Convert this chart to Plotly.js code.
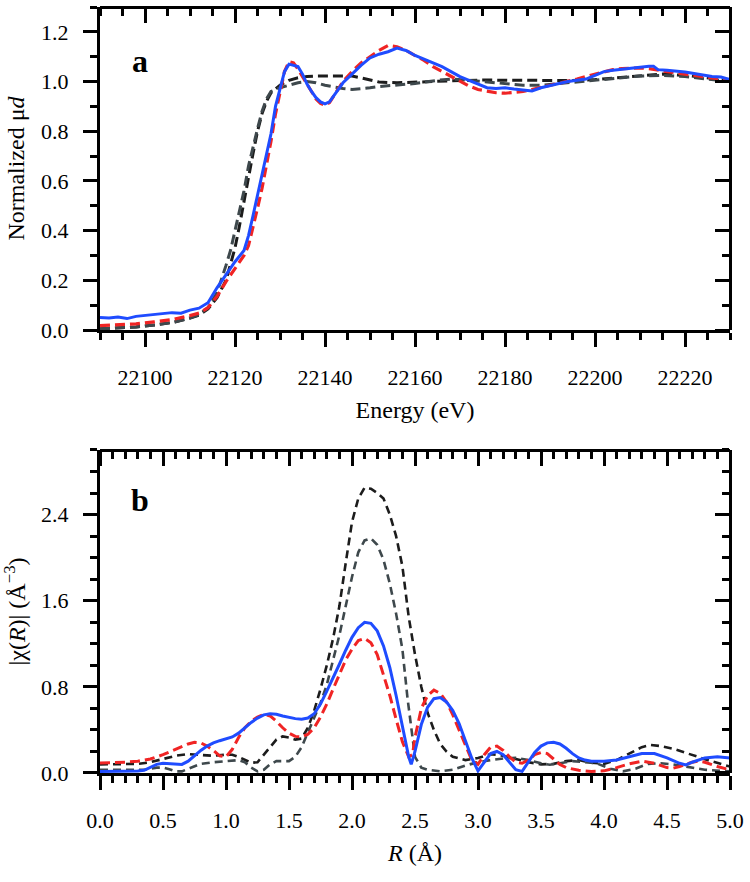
<!DOCTYPE html>
<html>
<head>
<meta charset="utf-8">
<script src="https://cdn.plot.ly/plotly-3.0.1.min.js"></script>
<style>html,body{margin:0;padding:0;background:#fff;}#chart{width:750px;height:882px;}</style>
</head>
<body>
<div id="chart"></div>
<script>
// ---------- Panel a: normalized XANES ----------
const eBlue = [22090,22092,22094,22096,22098,22100,22102,22104,22106,22108,22110,22112,22114,22116,22118,22120,22122,22123,22124,22125,22126,22127,22128,22129,22130,22131,22132,22133,22134,22135,22136,22137,22138,22139,22140,22141,22142,22143,22144,22146,22148,22150,22152,22154,22156,22158,22160,22162,22164,22166,22168,22170,22172,22174,22176,22178,22180,22182,22184,22186,22188,22190,22192,22194,22196,22198,22200,22202,22204,22206,22208,22210,22212,22213,22214,22216,22218,22220,22222,22224,22226,22228,22230];
const muBlue = [0.050,0.048,0.052,0.046,0.055,0.058,0.062,0.066,0.070,0.068,0.080,0.088,0.110,0.170,0.225,0.275,0.320,0.380,0.460,0.540,0.620,0.700,0.790,0.900,0.970,1.040,1.070,1.065,1.060,1.030,0.990,0.960,0.935,0.918,0.910,0.918,0.945,0.970,0.995,1.030,1.065,1.095,1.110,1.120,1.135,1.125,1.105,1.090,1.075,1.060,1.040,1.020,1.005,0.990,0.975,0.972,0.975,0.970,0.965,0.962,0.975,0.985,0.992,1.000,1.005,1.010,1.025,1.040,1.045,1.050,1.055,1.058,1.062,1.062,1.048,1.045,1.042,1.038,1.032,1.025,1.020,1.018,1.008];

const eRed = [22090,22094,22098,22102,22106,22110,22112,22114,22116,22118,22120,22122,22123,22124,22125,22126,22127,22128,22129,22130,22131,22132,22133,22134,22135,22136,22137,22138,22139,22140,22141,22142,22143,22144,22146,22148,22150,22152,22154,22156,22158,22160,22162,22164,22166,22168,22170,22172,22174,22176,22178,22180,22182,22184,22186,22188,22190,22192,22194,22196,22198,22200,22202,22204,22206,22208,22210,22212,22214,22216,22218,22220,22222,22224,22226,22228,22230];
const muRed = [0.018,0.020,0.025,0.033,0.042,0.058,0.068,0.090,0.135,0.195,0.250,0.300,0.340,0.410,0.490,0.570,0.660,0.760,0.870,0.960,1.040,1.080,1.075,1.050,1.020,0.985,0.955,0.930,0.912,0.905,0.915,0.945,0.975,1.000,1.040,1.075,1.100,1.125,1.145,1.140,1.125,1.105,1.085,1.060,1.040,1.020,1.000,0.982,0.968,0.960,0.955,0.953,0.955,0.960,0.968,0.976,0.985,0.992,1.000,1.010,1.020,1.030,1.040,1.048,1.052,1.055,1.055,1.052,1.045,1.040,1.035,1.030,1.025,1.020,1.015,1.010,1.005];

const eBlack = [22090,22094,22098,22102,22106,22110,22112,22114,22116,22118,22119,22120,22121,22122,22123,22124,22125,22126,22127,22128,22130,22132,22134,22136,22138,22140,22142,22144,22146,22148,22150,22152,22156,22160,22165,22170,22175,22180,22185,22190,22195,22200,22205,22210,22215,22220,22225,22230];
const muBlack = [0.005,0.008,0.012,0.020,0.030,0.048,0.060,0.085,0.130,0.200,0.260,0.330,0.420,0.520,0.620,0.710,0.800,0.870,0.920,0.955,0.985,1.005,1.015,1.020,1.022,1.022,1.025,1.025,1.022,1.015,1.005,0.998,0.995,0.998,1.000,1.004,1.006,1.005,1.003,1.003,1.004,1.008,1.015,1.025,1.030,1.025,1.015,1.005];

const eGray = [22090,22094,22098,22102,22106,22110,22112,22114,22116,22118,22119,22120,22121,22122,22123,22124,22125,22126,22127,22128,22130,22132,22134,22136,22138,22140,22142,22144,22146,22148,22150,22152,22155,22160,22165,22168,22172,22178,22184,22188,22192,22196,22200,22205,22210,22215,22220,22225,22230];
const muGray = [0.005,0.008,0.012,0.020,0.030,0.048,0.062,0.090,0.150,0.260,0.320,0.400,0.480,0.560,0.660,0.740,0.810,0.880,0.930,0.960,0.975,0.985,0.995,1.000,0.995,0.985,0.978,0.972,0.968,0.970,0.975,0.980,0.985,0.992,1.005,1.010,1.005,0.995,0.985,0.985,0.992,1.000,1.005,1.015,1.022,1.025,1.020,1.010,1.000];

// ---------- Panel b: |chi(R)| ----------
const rBlue = [0.00,0.10,0.20,0.30,0.35,0.40,0.45,0.50,0.55,0.60,0.65,0.70,0.75,0.80,0.85,0.90,0.95,1.00,1.05,1.10,1.15,1.20,1.25,1.30,1.35,1.40,1.45,1.50,1.55,1.60,1.65,1.70,1.75,1.80,1.85,1.90,1.95,2.00,2.05,2.10,2.15,2.20,2.25,2.30,2.35,2.40,2.45,2.47,2.50,2.55,2.60,2.65,2.70,2.75,2.80,2.85,2.90,2.95,3.00,3.05,3.10,3.15,3.20,3.25,3.30,3.35,3.40,3.45,3.50,3.55,3.60,3.65,3.70,3.75,3.80,3.85,3.90,4.00,4.10,4.20,4.30,4.40,4.50,4.60,4.65,4.70,4.80,4.90,5.00];
const chiBlue = [0.015,0.015,0.015,0.018,0.025,0.050,0.080,0.090,0.088,0.080,0.080,0.110,0.160,0.210,0.250,0.280,0.300,0.315,0.335,0.370,0.420,0.470,0.510,0.540,0.550,0.545,0.530,0.515,0.505,0.500,0.510,0.550,0.640,0.760,0.880,1.010,1.140,1.260,1.350,1.400,1.390,1.320,1.180,0.980,0.720,0.440,0.150,0.080,0.200,0.450,0.610,0.690,0.700,0.660,0.580,0.460,0.300,0.140,0.020,0.100,0.180,0.200,0.170,0.100,0.030,0.015,0.100,0.190,0.250,0.280,0.285,0.270,0.230,0.180,0.140,0.120,0.110,0.110,0.120,0.150,0.180,0.180,0.140,0.090,0.075,0.100,0.140,0.150,0.140];

const rRed = [0.00,0.10,0.20,0.30,0.40,0.50,0.60,0.70,0.75,0.80,0.85,0.90,0.95,1.00,1.05,1.10,1.15,1.20,1.25,1.30,1.35,1.40,1.45,1.50,1.55,1.60,1.65,1.70,1.75,1.80,1.85,1.90,1.95,2.00,2.05,2.10,2.15,2.20,2.25,2.30,2.35,2.40,2.45,2.48,2.50,2.55,2.60,2.65,2.70,2.75,2.80,2.85,2.90,2.95,3.00,3.05,3.10,3.15,3.20,3.25,3.30,3.35,3.40,3.45,3.50,3.55,3.60,3.65,3.70,3.80,3.90,4.00,4.10,4.20,4.30,4.40,4.50,4.55,4.60,4.70,4.75,4.80,4.90,5.00];
const chiRed = [0.093,0.095,0.100,0.110,0.130,0.170,0.220,0.270,0.285,0.280,0.250,0.210,0.160,0.150,0.220,0.330,0.420,0.480,0.520,0.545,0.530,0.480,0.420,0.370,0.340,0.335,0.360,0.420,0.520,0.640,0.780,0.920,1.050,1.150,1.230,1.250,1.210,1.100,0.920,0.720,0.500,0.290,0.150,0.170,0.330,0.600,0.720,0.770,0.740,0.660,0.540,0.400,0.250,0.120,0.080,0.170,0.240,0.250,0.210,0.150,0.100,0.090,0.120,0.170,0.190,0.180,0.130,0.080,0.050,0.025,0.015,0.020,0.050,0.085,0.110,0.090,0.050,0.045,0.060,0.100,0.110,0.100,0.060,0.030];

const rBlack = [0.00,0.10,0.20,0.30,0.40,0.50,0.60,0.70,0.80,0.90,1.00,1.05,1.10,1.15,1.20,1.25,1.30,1.35,1.40,1.45,1.50,1.55,1.60,1.65,1.70,1.75,1.80,1.85,1.90,1.95,2.00,2.05,2.10,2.15,2.20,2.25,2.30,2.35,2.40,2.45,2.50,2.55,2.60,2.65,2.70,2.75,2.80,2.90,3.00,3.10,3.20,3.30,3.40,3.50,3.60,3.70,3.80,3.90,4.00,4.10,4.20,4.30,4.37,4.45,4.55,4.65,4.75,4.85,5.00];
const chiBlack = [0.080,0.080,0.080,0.085,0.100,0.130,0.160,0.175,0.170,0.160,0.170,0.170,0.150,0.120,0.095,0.100,0.170,0.250,0.310,0.340,0.330,0.310,0.320,0.420,0.580,0.780,1.000,1.250,1.550,1.950,2.330,2.550,2.650,2.640,2.600,2.550,2.400,2.200,1.920,1.450,1.100,0.800,0.560,0.400,0.270,0.200,0.150,0.120,0.140,0.175,0.160,0.130,0.100,0.080,0.085,0.110,0.120,0.095,0.085,0.120,0.180,0.240,0.260,0.250,0.225,0.185,0.150,0.110,0.060];

const rGray = [0.00,0.20,0.35,0.45,0.50,0.55,0.60,0.65,0.70,0.80,0.90,1.00,1.10,1.15,1.20,1.25,1.30,1.35,1.40,1.50,1.55,1.60,1.65,1.70,1.75,1.80,1.85,1.90,1.95,2.00,2.05,2.10,2.15,2.20,2.25,2.30,2.35,2.40,2.44,2.47,2.50,2.55,2.60,2.70,2.80,2.90,3.00,3.10,3.20,3.30,3.40,3.50,3.57,3.65,3.75,3.85,3.94,4.05,4.15,4.25,4.35,4.45,4.55,4.65,4.80,5.00];
const chiGray = [0.030,0.030,0.030,0.050,0.050,0.035,0.015,0.015,0.040,0.085,0.100,0.110,0.120,0.100,0.050,0.015,0.030,0.080,0.110,0.110,0.150,0.240,0.380,0.520,0.650,0.820,1.040,1.280,1.550,1.820,2.050,2.160,2.180,2.120,1.980,1.760,1.480,1.150,0.700,0.400,0.150,0.050,0.030,0.015,0.030,0.070,0.100,0.120,0.135,0.140,0.120,0.090,0.077,0.090,0.110,0.100,0.090,0.040,0.015,0.040,0.085,0.090,0.080,0.060,0.030,0.015];

// Tick labels
const xTicksA = [22100,22120,22140,22160,22180,22200,22220];
const yTicksA = [0.0,0.2,0.4,0.6,0.8,1.0,1.2];
const xTicksB = [0.0,0.5,1.0,1.5,2.0,2.5,3.0,3.5,4.0,4.5,5.0];
const yTicksB = [0.0,0.8,1.6,2.4];

const BLUE = '#1f4cff', RED = '#f02424', BLACK = '#1c1c1c', GRAY = '#3e484c';
const FONT = '"Liberation Serif", "Times New Roman", serif';

function tr(x, y, color, dash, width, xa, ya) {
  return {x: x, y: y, type: 'scatter', mode: 'lines', xaxis: xa, yaxis: ya,
    line: {color: color, width: width, dash: dash}, hoverinfo: 'skip', showlegend: false};
}

// red and blue traces live on a twin subplot (x3/y3, x4/y4) covering the same area; its axes
// are placed on the top and right edges so that their ticks point into the frame
const data = [
  tr(eBlack, muBlack, BLACK, '10px,5px', 3, 'x', 'y'),
  tr(eGray, muGray, GRAY, '10px,5px', 3, 'x', 'y'),
  tr(eRed, muRed, RED, '10px,5px', 3.2, 'x3', 'y3'),
  tr(eBlue, muBlue, BLUE, 'solid', 3, 'x3', 'y3'),
  tr(rBlack, chiBlack, BLACK, '8px,5px', 2.6, 'x2', 'y2'),
  tr(rGray, chiGray, GRAY, '8px,5px', 2.6, 'x2', 'y2'),
  tr(rRed, chiRed, RED, '10px,5px', 3, 'x4', 'y4'),
  tr(rBlue, chiBlue, BLUE, 'solid', 3, 'x4', 'y4')
];

const tickFont = {family: FONT, size: 22, color: '#000'};
const titleFont = {family: FONT, size: 24, color: '#000'};

function mainAxis(o) {
  return Object.assign({
    showline: true, linewidth: 3, linecolor: '#000', mirror: false,
    showgrid: false, zeroline: false,
    ticks: 'outside', ticklen: 14, tickwidth: 3, tickcolor: '#000',
    tickfont: tickFont, tickmode: 'array', fixedrange: true
  }, o);
}
function twinAxis(o) {
  return Object.assign({
    showline: true, linewidth: 3, linecolor: '#000', mirror: false,
    showgrid: false, zeroline: false, showticklabels: false,
    ticks: 'outside', ticklen: 14, tickwidth: 3, tickcolor: '#000',
    tickmode: 'array', fixedrange: true, anchor: 'free'
  }, o);
}

const dA = [0.5783, 1], dB = [0, 0.4217];
const minorOut = (dt, t0) => ({dtick: dt, tick0: t0, ticks: 'outside', ticklen: 7, tickwidth: 3, tickcolor: '#000'});

const layout = {
  width: 750, height: 882,
  margin: {l: 100, r: 20, t: 7, b: 109},
  paper_bgcolor: '#fff', plot_bgcolor: 'rgba(0,0,0,0)',
  font: {family: FONT, size: 22, color: '#000'},
  showlegend: false,
  xaxis: mainAxis({range: [22090, 22230], domain: [0, 1], anchor: 'y', tickvals: xTicksA, ticktext: xTicksA.map(String),
    ticklabelstandoff: 12, minor: minorOut(5, 22090),
    title: {text: 'Energy (eV)', font: titleFont, standoff: 12}}),
  yaxis: mainAxis({range: [0, 1.3], domain: dA, anchor: 'x', tickvals: yTicksA, ticktext: yTicksA.map(v => v.toFixed(1)),
    ticklabelstandoff: 10, minor: minorOut(0.1, 0),
    title: {text: 'Normalized μ<i>d</i>', font: titleFont, standoff: 10}}),
  xaxis3: twinAxis({range: [22090, 22230], domain: [0, 1], side: 'bottom', position: dA[1], tickvals: xTicksA, minor: minorOut(5, 22090)}),
  yaxis3: twinAxis({range: [0, 1.3], domain: dA, side: 'left', position: 1, tickvals: yTicksA, minor: minorOut(0.1, 0)}),

  xaxis2: mainAxis({range: [0, 5], domain: [0, 1], anchor: 'y2', tickvals: xTicksB, ticktext: xTicksB.map(v => v.toFixed(1)),
    ticklabelstandoff: 12, minor: minorOut(0.1, 0),
    title: {text: '<i>R</i> (Å)', font: titleFont, standoff: 12}}),
  yaxis2: mainAxis({range: [0, 3.0], domain: dB, anchor: 'x2', tickvals: yTicksB, ticktext: yTicksB.map(v => v.toFixed(1)),
    ticklabelstandoff: 10, minor: minorOut(0.2, 0),
    title: {text: '|χ(<i>R</i>)| (Å<sup>−3</sup>)', font: titleFont, standoff: 10}}),
  xaxis4: twinAxis({range: [0, 5], domain: [0, 1], side: 'bottom', position: dB[1], tickvals: xTicksB, minor: minorOut(0.1, 0)}),
  yaxis4: twinAxis({range: [0, 3.0], domain: dB, side: 'left', position: 1, tickvals: yTicksB, minor: minorOut(0.2, 0)}),

  annotations: [
    {text: '<b>a</b>', xref: 'paper', yref: 'paper', x: 0.063, y: 0.93, xanchor: 'center', yanchor: 'middle',
      showarrow: false, font: {family: FONT, size: 32, color: '#000'}},
    {text: '<b>b</b>', xref: 'paper', yref: 'paper', x: 0.063, y: 0.356, xanchor: 'center', yanchor: 'middle',
      showarrow: false, font: {family: FONT, size: 32, color: '#000'}}
  ]
};

Plotly.newPlot('chart', data, layout, {staticPlot: true, displayModeBar: false});
</script>
</body>
</html>
